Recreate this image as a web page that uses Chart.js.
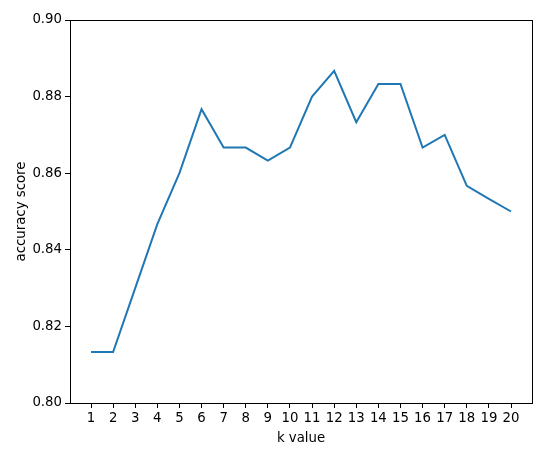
<!DOCTYPE html>
<html>
<head>
<meta charset="utf-8">
<script src="https://cdn.jsdelivr.net/npm/chart.js@4/dist/chart.umd.min.js"></script>
<style>
html,body{margin:0;padding:0;background:#fff;}
#wrap{width:550px;height:459px;position:relative;}
</style>
</head>
<body>
<div id="wrap"><canvas id="c" width="550" height="459"></canvas></div>
<script>
const kValues = [1,2,3,4,5,6,7,8,9,10,11,12,13,14,15,16,17,18,19,20];
const accuracy = [0.8133,0.8133,0.8300,0.8467,0.8600,0.8767,0.8667,0.8667,0.8633,0.8667,
                  0.8800,0.8867,0.8733,0.8833,0.8833,0.8667,0.8700,0.8567,0.8533,0.8500];
const yTicks = [0.80,0.82,0.84,0.86,0.88,0.90];
const xLabel = 'k value';
const yLabel = 'accuracy score';

const FONT = 'DejaVu Sans';
const FS = 13.3;
const frame = {
  id:'frame',
  afterDraw(chart){
    const a = chart.chartArea, ctx = chart.ctx;
    ctx.save();
    ctx.strokeStyle = '#000';
    ctx.lineWidth = 1;
    ctx.strokeRect(Math.round(a.left)+0.5, Math.round(a.top)+0.5,
      Math.round(a.right-a.left), Math.round(a.bottom-a.top));
    ctx.fillStyle = '#000';
    ctx.font = FS + 'px "' + FONT + '"';
    ctx.textAlign = 'center';
    ctx.textBaseline = 'middle';
    ctx.fillText(xLabel, (a.left+a.right)/2, a.bottom + 36);
    ctx.translate(a.left - 48, (a.top+a.bottom)/2);
    ctx.rotate(-Math.PI/2);
    ctx.fillText(yLabel, 0, 0);
    ctx.restore();
  }
};

new Chart(document.getElementById('c'), {
  type:'line',
  data:{
    datasets:[{
      data: kValues.map((k,i)=>({x:k,y:accuracy[i]})),
      borderColor:'#1f77b4',
      borderWidth:2,
      pointRadius:0,
      tension:0,
      fill:false
    }]
  },
  options:{
    responsive:false,
    animation:false,
    devicePixelRatio:1,
    layout:{padding:{top:20,right:18,left:0,bottom:0}},
    plugins:{legend:{display:false},tooltip:{enabled:false}},
    scales:{
      x:{
        type:'linear',
        min:0.05, max:20.95,
        afterBuildTicks(s){ s.ticks = kValues.map(v=>({value:v})); },
        afterFit(s){ s.height = 56; },
        grid:{display:true,drawOnChartArea:false,drawTicks:true,tickLength:5,color:'#000',lineWidth:1},
        border:{display:true,color:'#000',width:1},
        ticks:{color:'#000',font:{family:FONT,size:FS},padding:3,maxRotation:0,autoSkip:false,
               callback:(v)=>String(v)},
        title:{display:false}
      },
      y:{
        min:0.80, max:0.90,
        afterBuildTicks(s){ s.ticks = yTicks.map(v=>({value:v})); },
        afterFit(s){ s.width = 70; },
        grid:{display:true,drawOnChartArea:false,drawTicks:true,tickLength:5,color:'#000',lineWidth:1},
        border:{display:true,color:'#000',width:1},
        ticks:{color:'#000',font:{family:FONT,size:FS},padding:3,callback:(v)=>Number(v).toFixed(2)},
        title:{display:false}
      }
    }
  },
  plugins:[frame]
});
</script>
</body>
</html>
